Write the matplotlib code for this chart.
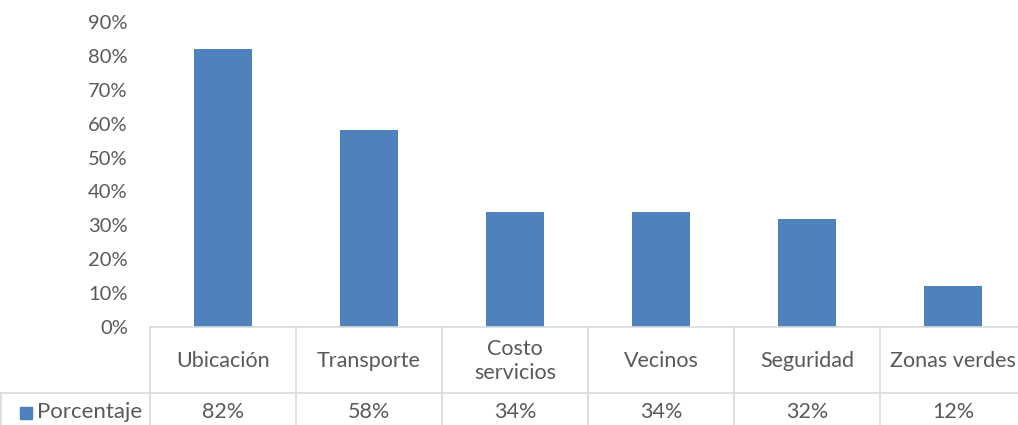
import matplotlib.pyplot as plt
import matplotlib.transforms as mtransforms
from matplotlib.lines import Line2D
from matplotlib.patches import Rectangle
from matplotlib.ticker import PercentFormatter

plt.rcParams['font.family'] = ['Lato', 'DejaVu Sans']

categorias = ['Ubicación', 'Transporte', 'Costo\nservicios', 'Vecinos', 'Seguridad', 'Zonas verdes']
porcentaje = [0.82, 0.58, 0.34, 0.34, 0.32, 0.12]
etiquetas = ['82%', '58%', '34%', '34%', '32%', '12%']
serie = 'Porcentaje'

W, H = 1018, 425
azul = '#4F81BD'
gris_txt = '#595959'
gris_lin = '#D9D9D9'

fig = plt.figure(figsize=(W / 100, H / 100), dpi=100)
# plot area in pixels: x 150..1026 (clipped at right), y 22..327 from top
ax = fig.add_axes([150 / W, (H - 327) / H, 876 / W, 305 / H])

x = range(len(categorias))
ax.bar(x, porcentaje, width=0.4, color=azul)
ax.set_xlim(-0.5, len(categorias) - 0.5)
ax.set_ylim(0, 0.9)
ax.set_yticks([i / 10 for i in range(10)])
ax.yaxis.set_major_formatter(PercentFormatter(1.0, decimals=0))
ax.tick_params(axis='y', length=0, pad=16, labelsize=14.5, labelcolor=gris_txt)
ax.set_xticks([])
for s in ['top', 'right', 'left']:
    ax.spines[s].set_visible(False)
ax.spines['bottom'].set_color(gris_lin)
ax.spines['bottom'].set_linewidth(1.2)

# data table under the chart
tr = mtransforms.blended_transform_factory(ax.transData, fig.transFigure)
def fy(py):
    return (H - py) / H

y_top, y_mid, y_bot = 327, 393, H + 5
bordes = [i - 0.5 for i in range(len(categorias) + 1)]
for b in bordes:
    fig.add_artist(Line2D([b, b], [fy(y_top), fy(y_bot)], transform=tr,
                          color=gris_lin, lw=1.2, clip_on=False))
fig.add_artist(Line2D([1 / W, 1], [fy(y_mid), fy(y_mid)], transform=fig.transFigure,
                      color=gris_lin, lw=1.2))
fig.add_artist(Line2D([1 / W, 1 / W], [fy(y_mid), fy(y_bot)], transform=fig.transFigure,
                      color=gris_lin, lw=1.2))

for i, (c, e) in enumerate(zip(categorias, etiquetas)):
    fig.text(i, fy(361), c, transform=tr, ha='center', va='center',
             fontsize=15.5, color=gris_txt, linespacing=1.2)
    fig.text(i, fy(412), e, transform=tr, ha='center', va='center',
             fontsize=15.5, color=gris_txt)

fig.add_artist(Rectangle((20 / W, fy(419)), 12 / W, 12 / H, transform=fig.transFigure,
                         color=azul))
fig.text(37 / W, fy(412), serie, ha='left', va='center', fontsize=16, color=gris_txt)

fig.savefig('out.png', dpi=100)
